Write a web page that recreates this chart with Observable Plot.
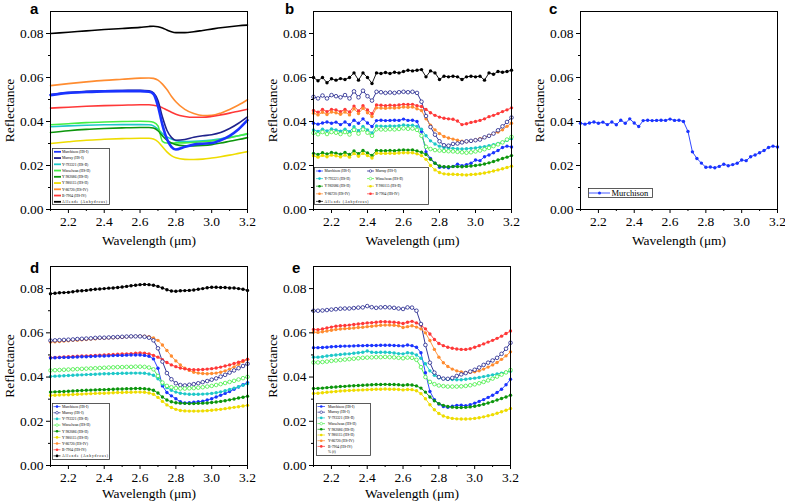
<!DOCTYPE html>
<html>
<head>
<meta charset="utf-8">
<script src="https://cdn.jsdelivr.net/npm/d3@7"></script>
<script src="https://cdn.jsdelivr.net/npm/@observablehq/plot@0.6"></script>
<style>
  html,body{margin:0;padding:0;background:#fff;}
  #fig{position:relative;width:785px;height:503px;overflow:hidden;background:#fff;}
  .pnl{position:absolute;}
  .letter{position:absolute;font:bold 15px/15px "Liberation Sans",Arial,sans-serif;color:#000;}
</style>
</head>
<body>
<div id="fig"></div>
<script>
// ---------- categories / styling ----------
const names = ["Murchison (HS-I)", "Murray (HS-I)", "Y-793321 (HS-II)", "Winselwan (HS-II)", "Y 982086 (HS-II)", "Y 980115 (HS-II)", "Y-86720 (HS-IV)", "B-7904 (HS-IV)", "Allende (Anhydrous)"];
const colors = ["#1a33ff", "#1f228c", "#1ec8c8", "#44ee44", "#0c960c", "#eedc00", "#ff8c30", "#ff3838", "#000000"];
const hollowNames = ["Murray (HS-I)", "Winselwan (HS-II)"];

// ---------- tick labels ----------
const xMajor = [2.2, 2.4, 2.6, 2.8, 3.0, 3.2];
const xMinor = [2.1, 2.3, 2.5, 2.7, 2.9, 3.1];
const yMajor = [0.00, 0.02, 0.04, 0.06, 0.08];
const yMinor = [0.01, 0.03, 0.05, 0.07];

// ---------- wavelengths ----------
const wlA = [2.10, 2.20, 2.30, 2.40, 2.50, 2.60, 2.65, 2.675, 2.70, 2.725, 2.75, 2.775, 2.80, 2.85, 2.90, 2.95, 3.00, 3.05, 3.10, 3.15, 3.20];
const wl = [2.100, 2.125, 2.150, 2.175, 2.200, 2.225, 2.250, 2.275, 2.300, 2.325, 2.350, 2.375, 2.400, 2.425, 2.450, 2.475, 2.500, 2.525, 2.550, 2.575, 2.600, 2.625, 2.650, 2.675, 2.700, 2.725, 2.750, 2.775, 2.800, 2.825, 2.850, 2.875, 2.900, 2.925, 2.950, 2.975, 3.000, 3.025, 3.050, 3.075, 3.100, 3.125, 3.150, 3.175, 3.200];

// ---------- panel a (smooth) ----------
const aMurchison = [0.0520, 0.0530, 0.0534, 0.0537, 0.0538, 0.0538, 0.0535, 0.0525, 0.0470, 0.0385, 0.0320, 0.0285, 0.0273, 0.0285, 0.0295, 0.0299, 0.0302, 0.0315, 0.0335, 0.0365, 0.0406];
const aMurray = [0.0522, 0.0532, 0.0537, 0.0540, 0.0541, 0.0542, 0.0540, 0.0530, 0.0495, 0.0420, 0.0360, 0.0328, 0.0315, 0.0318, 0.0328, 0.0335, 0.0340, 0.0350, 0.0368, 0.0392, 0.0421];
const aY793321 = [0.0376, 0.0380, 0.0383, 0.0385, 0.0386, 0.0386, 0.0385, 0.0380, 0.0365, 0.0345, 0.0330, 0.0320, 0.0313, 0.0309, 0.0310, 0.0312, 0.0316, 0.0321, 0.0328, 0.0335, 0.0342];
const aWinselwan = [0.0385, 0.0390, 0.0395, 0.0398, 0.0400, 0.0401, 0.0400, 0.0397, 0.0380, 0.0310, 0.0302, 0.0302, 0.0303, 0.0303, 0.0305, 0.0308, 0.0312, 0.0318, 0.0326, 0.0335, 0.0345];
const aY982086 = [0.0350, 0.0358, 0.0364, 0.0368, 0.0371, 0.0373, 0.0373, 0.0370, 0.0358, 0.0335, 0.0315, 0.0302, 0.0295, 0.0290, 0.0289, 0.0291, 0.0295, 0.0302, 0.0310, 0.0318, 0.0327];
const aY980115 = [0.0300, 0.0308, 0.0315, 0.0319, 0.0322, 0.0324, 0.0324, 0.0320, 0.0308, 0.0285, 0.0262, 0.0245, 0.0235, 0.0228, 0.0227, 0.0229, 0.0234, 0.0240, 0.0247, 0.0255, 0.0263];
const aY86720 = [0.0563, 0.0572, 0.0580, 0.0587, 0.0592, 0.0597, 0.0598, 0.0596, 0.0588, 0.0570, 0.0545, 0.0515, 0.0490, 0.0455, 0.0436, 0.0427, 0.0428, 0.0438, 0.0455, 0.0475, 0.0499];
const aB7904 = [0.0461, 0.0465, 0.0469, 0.0472, 0.0474, 0.0476, 0.0476, 0.0474, 0.0470, 0.0462, 0.0452, 0.0442, 0.0433, 0.0423, 0.0419, 0.0419, 0.0423, 0.0430, 0.0438, 0.0447, 0.0456];
const aAllende = [0.0800, 0.0806, 0.0812, 0.0818, 0.0823, 0.0828, 0.0832, 0.0833, 0.0831, 0.0825, 0.0816, 0.0808, 0.0804, 0.0804, 0.0808, 0.0814, 0.0820, 0.0826, 0.0831, 0.0835, 0.0838];

// ---------- panel b (and c: Murchison) ----------
const bMurchison = [0.0392, 0.0388, 0.0393, 0.0398, 0.0392, 0.0397, 0.0386, 0.0398, 0.0385, 0.0406, 0.0392, 0.0412, 0.0393, 0.0377, 0.0404, 0.0406, 0.0404, 0.0405, 0.0406, 0.0405, 0.0411, 0.0405, 0.0406, 0.0400, 0.0355, 0.0262, 0.0232, 0.0211, 0.0192, 0.0193, 0.0190, 0.0196, 0.0206, 0.0199, 0.0204, 0.0210, 0.0225, 0.0222, 0.0240, 0.0248, 0.0258, 0.0268, 0.0282, 0.0288, 0.0284];
const bMurray = [0.0512, 0.0505, 0.0518, 0.0505, 0.0520, 0.0515, 0.0510, 0.0520, 0.0505, 0.0537, 0.0510, 0.0540, 0.0515, 0.0495, 0.0535, 0.0533, 0.0530, 0.0532, 0.0530, 0.0533, 0.0535, 0.0533, 0.0535, 0.0530, 0.0490, 0.0425, 0.0375, 0.0340, 0.0310, 0.0292, 0.0290, 0.0298, 0.0300, 0.0305, 0.0310, 0.0312, 0.0315, 0.0318, 0.0328, 0.0335, 0.0345, 0.0360, 0.0378, 0.0398, 0.0418];
const bY793321 = [0.0362, 0.0355, 0.0365, 0.0357, 0.0366, 0.0362, 0.0356, 0.0365, 0.0354, 0.0376, 0.0358, 0.0378, 0.0362, 0.0348, 0.0380, 0.0379, 0.0378, 0.0380, 0.0379, 0.0381, 0.0384, 0.0382, 0.0383, 0.0378, 0.0365, 0.0335, 0.0312, 0.0298, 0.0288, 0.0282, 0.0280, 0.0278, 0.0276, 0.0275, 0.0276, 0.0278, 0.0280, 0.0283, 0.0286, 0.0290, 0.0295, 0.0300, 0.0306, 0.0314, 0.0322];
const bWinselwan = [0.0348, 0.0342, 0.0352, 0.0343, 0.0352, 0.0349, 0.0343, 0.0352, 0.0341, 0.0362, 0.0345, 0.0364, 0.0349, 0.0335, 0.0365, 0.0364, 0.0363, 0.0365, 0.0364, 0.0366, 0.0369, 0.0367, 0.0368, 0.0362, 0.0335, 0.0285, 0.0275, 0.0270, 0.0268, 0.0266, 0.0265, 0.0264, 0.0262, 0.0260, 0.0258, 0.0260, 0.0264, 0.0268, 0.0274, 0.0280, 0.0288, 0.0296, 0.0305, 0.0318, 0.0330];
const bY982086 = [0.0255, 0.0250, 0.0258, 0.0252, 0.0259, 0.0256, 0.0251, 0.0259, 0.0250, 0.0266, 0.0254, 0.0268, 0.0257, 0.0246, 0.0268, 0.0267, 0.0267, 0.0268, 0.0267, 0.0269, 0.0271, 0.0270, 0.0271, 0.0266, 0.0260, 0.0250, 0.0228, 0.0210, 0.0198, 0.0194, 0.0194, 0.0195, 0.0195, 0.0194, 0.0196, 0.0198, 0.0200, 0.0203, 0.0207, 0.0212, 0.0218, 0.0225, 0.0232, 0.0238, 0.0245];
const bY980115 = [0.0244, 0.0238, 0.0246, 0.0240, 0.0247, 0.0244, 0.0239, 0.0247, 0.0238, 0.0254, 0.0242, 0.0255, 0.0245, 0.0234, 0.0256, 0.0255, 0.0255, 0.0256, 0.0255, 0.0257, 0.0258, 0.0258, 0.0258, 0.0253, 0.0245, 0.0228, 0.0200, 0.0180, 0.0168, 0.0162, 0.0160, 0.0160, 0.0159, 0.0158, 0.0157, 0.0159, 0.0160, 0.0163, 0.0166, 0.0170, 0.0175, 0.0180, 0.0185, 0.0191, 0.0197];
const bY86720 = [0.0438, 0.0430, 0.0442, 0.0432, 0.0443, 0.0440, 0.0433, 0.0443, 0.0430, 0.0458, 0.0436, 0.0460, 0.0440, 0.0423, 0.0462, 0.0461, 0.0460, 0.0462, 0.0461, 0.0463, 0.0466, 0.0465, 0.0466, 0.0458, 0.0450, 0.0412, 0.0383, 0.0362, 0.0345, 0.0332, 0.0325, 0.0320, 0.0315, 0.0310, 0.0308, 0.0312, 0.0316, 0.0322, 0.0328, 0.0336, 0.0345, 0.0352, 0.0362, 0.0378, 0.0392];
const bB7904 = [0.0450, 0.0442, 0.0455, 0.0445, 0.0455, 0.0452, 0.0445, 0.0455, 0.0443, 0.0470, 0.0448, 0.0472, 0.0452, 0.0435, 0.0475, 0.0474, 0.0472, 0.0474, 0.0473, 0.0475, 0.0478, 0.0477, 0.0478, 0.0472, 0.0468, 0.0455, 0.0440, 0.0428, 0.0420, 0.0415, 0.0412, 0.0410, 0.0402, 0.0386, 0.0390, 0.0396, 0.0400, 0.0405, 0.0412, 0.0422, 0.0428, 0.0436, 0.0445, 0.0453, 0.0462];
const bAllende = [0.0600, 0.0585, 0.0600, 0.0576, 0.0594, 0.0588, 0.0595, 0.0591, 0.0600, 0.0621, 0.0588, 0.0621, 0.0600, 0.0573, 0.0621, 0.0618, 0.0623, 0.0618, 0.0624, 0.0621, 0.0627, 0.0633, 0.0630, 0.0633, 0.0636, 0.0603, 0.0630, 0.0621, 0.0591, 0.0606, 0.0603, 0.0606, 0.0603, 0.0591, 0.0603, 0.0606, 0.0603, 0.0606, 0.0588, 0.0621, 0.0615, 0.0627, 0.0624, 0.0627, 0.0633];

// ---------- panel d ----------
const dMurchison = [0.0486, 0.0487, 0.0488, 0.0489, 0.0489, 0.0490, 0.0491, 0.0492, 0.0492, 0.0493, 0.0494, 0.0495, 0.0495, 0.0496, 0.0497, 0.0498, 0.0498, 0.0499, 0.0500, 0.0500, 0.0500, 0.0498, 0.0494, 0.0482, 0.0440, 0.0360, 0.0330, 0.0315, 0.0302, 0.0288, 0.0283, 0.0284, 0.0286, 0.0288, 0.0291, 0.0296, 0.0302, 0.0310, 0.0318, 0.0326, 0.0335, 0.0345, 0.0355, 0.0365, 0.0375];
const dMurray = [0.0565, 0.0566, 0.0567, 0.0568, 0.0569, 0.0570, 0.0572, 0.0573, 0.0574, 0.0575, 0.0577, 0.0578, 0.0578, 0.0579, 0.0580, 0.0581, 0.0582, 0.0583, 0.0584, 0.0584, 0.0584, 0.0582, 0.0578, 0.0566, 0.0530, 0.0470, 0.0418, 0.0390, 0.0372, 0.0364, 0.0362, 0.0365, 0.0368, 0.0372, 0.0377, 0.0382, 0.0388, 0.0394, 0.0402, 0.0410, 0.0420, 0.0430, 0.0440, 0.0450, 0.0460];
const dY793321 = [0.0403, 0.0404, 0.0405, 0.0406, 0.0407, 0.0408, 0.0409, 0.0410, 0.0411, 0.0412, 0.0413, 0.0414, 0.0415, 0.0415, 0.0416, 0.0416, 0.0417, 0.0417, 0.0418, 0.0418, 0.0418, 0.0417, 0.0414, 0.0408, 0.0392, 0.0368, 0.0352, 0.0340, 0.0332, 0.0327, 0.0324, 0.0322, 0.0322, 0.0322, 0.0323, 0.0324, 0.0326, 0.0329, 0.0333, 0.0338, 0.0344, 0.0350, 0.0356, 0.0363, 0.0370];
const dWinselwan = [0.0430, 0.0431, 0.0432, 0.0433, 0.0434, 0.0435, 0.0436, 0.0437, 0.0438, 0.0439, 0.0440, 0.0441, 0.0442, 0.0443, 0.0444, 0.0445, 0.0445, 0.0446, 0.0446, 0.0447, 0.0447, 0.0446, 0.0443, 0.0435, 0.0405, 0.0375, 0.0360, 0.0354, 0.0350, 0.0348, 0.0348, 0.0349, 0.0350, 0.0352, 0.0354, 0.0357, 0.0360, 0.0364, 0.0368, 0.0373, 0.0378, 0.0383, 0.0389, 0.0395, 0.0401];
const dY982086 = [0.0332, 0.0333, 0.0334, 0.0335, 0.0336, 0.0337, 0.0338, 0.0339, 0.0340, 0.0341, 0.0342, 0.0343, 0.0343, 0.0344, 0.0345, 0.0346, 0.0346, 0.0347, 0.0347, 0.0348, 0.0348, 0.0347, 0.0345, 0.0340, 0.0328, 0.0310, 0.0296, 0.0288, 0.0284, 0.0282, 0.0281, 0.0280, 0.0280, 0.0281, 0.0282, 0.0283, 0.0285, 0.0287, 0.0290, 0.0293, 0.0297, 0.0301, 0.0305, 0.0309, 0.0313];
const dY980115 = [0.0317, 0.0318, 0.0319, 0.0320, 0.0320, 0.0321, 0.0322, 0.0323, 0.0324, 0.0325, 0.0326, 0.0327, 0.0327, 0.0328, 0.0329, 0.0330, 0.0330, 0.0331, 0.0331, 0.0332, 0.0332, 0.0331, 0.0328, 0.0322, 0.0308, 0.0290, 0.0274, 0.0262, 0.0254, 0.0249, 0.0247, 0.0246, 0.0246, 0.0246, 0.0247, 0.0248, 0.0250, 0.0252, 0.0254, 0.0257, 0.0260, 0.0263, 0.0266, 0.0269, 0.0272];
const dY86720 = [0.0558, 0.0560, 0.0561, 0.0563, 0.0564, 0.0566, 0.0567, 0.0569, 0.0570, 0.0572, 0.0573, 0.0575, 0.0576, 0.0577, 0.0578, 0.0579, 0.0580, 0.0582, 0.0583, 0.0584, 0.0585, 0.0585, 0.0582, 0.0577, 0.0566, 0.0545, 0.0520, 0.0495, 0.0473, 0.0455, 0.0440, 0.0430, 0.0422, 0.0418, 0.0416, 0.0415, 0.0416, 0.0418, 0.0422, 0.0428, 0.0436, 0.0446, 0.0458, 0.0470, 0.0480];
const dB7904 = [0.0488, 0.0489, 0.0490, 0.0491, 0.0492, 0.0493, 0.0494, 0.0495, 0.0496, 0.0497, 0.0498, 0.0499, 0.0500, 0.0501, 0.0502, 0.0503, 0.0504, 0.0505, 0.0506, 0.0508, 0.0509, 0.0508, 0.0505, 0.0498, 0.0490, 0.0478, 0.0466, 0.0455, 0.0447, 0.0441, 0.0437, 0.0434, 0.0433, 0.0433, 0.0434, 0.0436, 0.0438, 0.0441, 0.0445, 0.0450, 0.0455, 0.0461, 0.0467, 0.0474, 0.0481];
const dAllende = [0.0777, 0.0779, 0.0781, 0.0782, 0.0783, 0.0786, 0.0789, 0.0790, 0.0792, 0.0795, 0.0797, 0.0798, 0.0800, 0.0802, 0.0803, 0.0805, 0.0807, 0.0810, 0.0813, 0.0815, 0.0818, 0.0819, 0.0818, 0.0815, 0.0810, 0.0803, 0.0795, 0.0789, 0.0788, 0.0790, 0.0791, 0.0792, 0.0794, 0.0797, 0.0800, 0.0804, 0.0806, 0.0806, 0.0805, 0.0805, 0.0803, 0.0803, 0.0800, 0.0797, 0.0792];

// ---------- panel e ----------
const eMurchison = [0.0533, 0.0533, 0.0534, 0.0535, 0.0537, 0.0538, 0.0539, 0.0540, 0.0540, 0.0541, 0.0542, 0.0542, 0.0543, 0.0543, 0.0543, 0.0544, 0.0544, 0.0544, 0.0543, 0.0542, 0.0541, 0.0545, 0.0542, 0.0535, 0.0510, 0.0420, 0.0335, 0.0298, 0.0278, 0.0267, 0.0263, 0.0268, 0.0272, 0.0273, 0.0270, 0.0275, 0.0282, 0.0290, 0.0298, 0.0308, 0.0318, 0.0330, 0.0345, 0.0365, 0.0390];
const eMurray = [0.0700, 0.0700, 0.0701, 0.0703, 0.0705, 0.0707, 0.0709, 0.0710, 0.0710, 0.0712, 0.0714, 0.0715, 0.0721, 0.0716, 0.0713, 0.0715, 0.0716, 0.0715, 0.0713, 0.0710, 0.0708, 0.0715, 0.0714, 0.0700, 0.0640, 0.0545, 0.0465, 0.0420, 0.0400, 0.0393, 0.0392, 0.0396, 0.0405, 0.0412, 0.0418, 0.0425, 0.0433, 0.0443, 0.0455, 0.0465, 0.0475, 0.0487, 0.0505, 0.0528, 0.0555];
const eY793321 = [0.0490, 0.0490, 0.0492, 0.0495, 0.0498, 0.0500, 0.0502, 0.0504, 0.0505, 0.0508, 0.0510, 0.0512, 0.0518, 0.0512, 0.0511, 0.0512, 0.0512, 0.0511, 0.0509, 0.0506, 0.0505, 0.0510, 0.0508, 0.0500, 0.0485, 0.0460, 0.0428, 0.0408, 0.0397, 0.0392, 0.0390, 0.0389, 0.0388, 0.0388, 0.0390, 0.0393, 0.0395, 0.0398, 0.0402, 0.0406, 0.0410, 0.0414, 0.0418, 0.0422, 0.0426];
const eWinselwan = [0.0466, 0.0466, 0.0468, 0.0470, 0.0473, 0.0475, 0.0477, 0.0479, 0.0481, 0.0483, 0.0485, 0.0487, 0.0488, 0.0489, 0.0490, 0.0490, 0.0491, 0.0490, 0.0489, 0.0487, 0.0485, 0.0488, 0.0487, 0.0478, 0.0445, 0.0400, 0.0378, 0.0368, 0.0362, 0.0359, 0.0357, 0.0357, 0.0357, 0.0358, 0.0360, 0.0363, 0.0367, 0.0372, 0.0378, 0.0385, 0.0393, 0.0402, 0.0411, 0.0421, 0.0432];
const eY982086 = [0.0348, 0.0349, 0.0350, 0.0352, 0.0354, 0.0355, 0.0357, 0.0358, 0.0360, 0.0361, 0.0362, 0.0363, 0.0364, 0.0365, 0.0366, 0.0366, 0.0367, 0.0366, 0.0366, 0.0365, 0.0363, 0.0365, 0.0364, 0.0360, 0.0350, 0.0332, 0.0310, 0.0293, 0.0280, 0.0272, 0.0267, 0.0264, 0.0262, 0.0262, 0.0263, 0.0265, 0.0268, 0.0272, 0.0277, 0.0283, 0.0289, 0.0296, 0.0303, 0.0310, 0.0318];
const eY980115 = [0.0326, 0.0327, 0.0329, 0.0331, 0.0333, 0.0335, 0.0337, 0.0338, 0.0339, 0.0340, 0.0341, 0.0342, 0.0343, 0.0344, 0.0345, 0.0345, 0.0346, 0.0345, 0.0345, 0.0344, 0.0342, 0.0344, 0.0343, 0.0338, 0.0325, 0.0302, 0.0275, 0.0252, 0.0235, 0.0224, 0.0217, 0.0213, 0.0211, 0.0210, 0.0210, 0.0211, 0.0213, 0.0216, 0.0220, 0.0225, 0.0230, 0.0236, 0.0243, 0.0250, 0.0258];
const eY86720 = [0.0603, 0.0602, 0.0605, 0.0608, 0.0612, 0.0615, 0.0617, 0.0619, 0.0620, 0.0622, 0.0624, 0.0625, 0.0628, 0.0630, 0.0632, 0.0634, 0.0635, 0.0635, 0.0634, 0.0632, 0.0624, 0.0628, 0.0632, 0.0626, 0.0618, 0.0600, 0.0565, 0.0525, 0.0490, 0.0465, 0.0448, 0.0436, 0.0428, 0.0423, 0.0421, 0.0421, 0.0424, 0.0428, 0.0436, 0.0445, 0.0455, 0.0466, 0.0480, 0.0496, 0.0514];
const eB7904 = [0.0615, 0.0614, 0.0617, 0.0622, 0.0626, 0.0630, 0.0632, 0.0633, 0.0635, 0.0638, 0.0640, 0.0642, 0.0645, 0.0646, 0.0648, 0.0650, 0.0650, 0.0649, 0.0648, 0.0646, 0.0642, 0.0648, 0.0652, 0.0645, 0.0635, 0.0618, 0.0595, 0.0570, 0.0552, 0.0542, 0.0535, 0.0530, 0.0527, 0.0525, 0.0525, 0.0528, 0.0535, 0.0542, 0.0550, 0.0558, 0.0566, 0.0575, 0.0585, 0.0597, 0.0608];

// ---------- legend entries ----------
const legendAB = names;
const legendE = [...names.slice(0, 8), "% (f)"];
const legendC = ["Murchison"];

// ---------- helpers ----------
const fig = document.getElementById("fig");
const serif = '"Liberation Serif", "Times New Roman", serif';

function rows(xs, list) {
  const out = [];
  list.forEach(([name, arr]) => arr.forEach((v, j) => out.push({wl: xs[j], r: v, s: name})));
  return out;
}

function panel({left, top, width, height, mt, mb, ml, mr, data, markers, lineW, curve, xlo}) {
  const isHollow = d => hollowNames.includes(d.s);
  const marks = [
    Plot.line(data, {x: "wl", y: "r", z: "s", stroke: "s", strokeWidth: lineW, curve: curve || "linear"})
  ];
  if (markers) {
    marks.push(Plot.dot(data.filter(d => !isHollow(d)), {x: "wl", y: "r", fill: "s", r: 1.7}));
    marks.push(Plot.dot(data.filter(isHollow), {x: "wl", y: "r", stroke: "s", fill: "white", r: 1.8, strokeWidth: 0.8}));
  }
  marks.push(
    Plot.frame({stroke: "#000", strokeWidth: 1}),
    Plot.axisX({ticks: xMajor, tickSize: 4, tickPadding: 3, tickFormat: d3.format(".1f"), label: "Wavelength (μm)", labelAnchor: "center", labelOffset: xlo, labelArrow: "none"}),
    Plot.axisX({ticks: xMinor, tickSize: 2, tickFormat: () => "", label: null}),
    Plot.axisY({ticks: yMajor, tickSize: 4, tickPadding: 3, tickFormat: d3.format(".2f"), label: "Reflectance", labelAnchor: "center", labelOffset: 46, labelArrow: "none"}),
    Plot.axisY({ticks: yMinor, tickSize: 2, tickFormat: () => "", label: null})
  );
  const p = Plot.plot({
    width, height,
    marginTop: mt, marginBottom: mb, marginLeft: ml, marginRight: mr,
    x: {domain: [2.1, 3.2], label: null},
    y: {domain: [0, 0.09], label: null},
    color: {domain: names, range: colors},
    style: {fontFamily: serif, fontSize: "13.5px", color: "#000", background: "transparent", overflow: "visible"},
    marks
  });
  const div = document.createElement("div");
  div.className = "pnl";
  div.style.left = left + "px";
  div.style.top = top + "px";
  div.appendChild(p);
  fig.appendChild(div);
}

function legend({left, top, width, height, items, keys, cols = 1, colW = 0, rowH, y0, fs, sw0, sw1, tx, markers, lw, allW, box = "#333"}) {
  const svg = d3.select(fig).append("svg")
    .attr("width", width).attr("height", height)
    .style("position", "absolute").style("left", left + "px").style("top", top + "px");
  svg.append("rect").attr("x", 0.5).attr("y", 0.5).attr("width", width - 1).attr("height", height - 1)
    .attr("fill", "#fff").attr("stroke", box).attr("stroke-width", 0.8);
  items.forEach((label, i) => {
    const c = i % cols, ri = Math.floor(i / cols);
    const x = c * colW, y = y0 + ri * rowH;
    const key = keys ? keys[i] : label;
    const idx = names.indexOf(key);
    if (idx >= 0) {
      const col = colors[idx];
      svg.append("line").attr("x1", x + sw0).attr("x2", x + sw1).attr("y1", y).attr("y2", y)
        .attr("stroke", col).attr("stroke-width", lw);
      if (markers) {
        const hol = hollowNames.includes(key);
        svg.append("circle").attr("cx", x + (sw0 + sw1) / 2).attr("cy", y).attr("r", markers)
          .attr("fill", hol ? "#fff" : col).attr("stroke", col).attr("stroke-width", hol ? 0.6 : 0);
      }
    }
    const t = svg.append("text").attr("x", x + tx).attr("y", y).attr("dy", "0.35em")
      .attr("font-family", serif).attr("font-size", fs).attr("fill", "#000").text(label);
    if (allW && label.startsWith("Allende")) t.attr("textLength", allW).attr("lengthAdjust", "spacing");
  });
}

function letter(txt, left, top) {
  const d = document.createElement("div");
  d.className = "letter";
  d.style.left = left + "px";
  d.style.top = top + "px";
  d.textContent = txt;
  fig.appendChild(d);
}

// ---------- panels ----------
const dataA = rows(wlA, [[names[8], aAllende], [names[6], aY86720], [names[7], aB7904], [names[2], aY793321], [names[3], aWinselwan], [names[4], aY982086], [names[5], aY980115], [names[1], aMurray], [names[0], aMurchison]]);
const dataB = rows(wl, [[names[8], bAllende], [names[1], bMurray], [names[7], bB7904], [names[6], bY86720], [names[0], bMurchison], [names[2], bY793321], [names[3], bWinselwan], [names[4], bY982086], [names[5], bY980115]]);
const dataC = rows(wl, [[names[0], bMurchison]]);
const dataD = rows(wl, [[names[8], dAllende], [names[6], dY86720], [names[1], dMurray], [names[7], dB7904], [names[0], dMurchison], [names[3], dWinselwan], [names[2], dY793321], [names[4], dY982086], [names[5], dY980115]]);
const dataE = rows(wl, [[names[1], eMurray], [names[7], eB7904], [names[6], eY86720], [names[0], eMurchison], [names[2], eY793321], [names[3], eWinselwan], [names[4], eY982086], [names[5], eY980115]]);

panel({left: 0, top: 0, width: 262, height: 250, mt: 11, mb: 41, ml: 50, mr: 15, data: dataA, markers: false, lineW: d => d.s === names[0] ? 2.6 : 1.6, curve: "monotone-x", xlo: 35});
panel({left: 263, top: 0, width: 262, height: 250, mt: 11, mb: 41, ml: 50, mr: 14, data: dataB, markers: true, lineW: 0.9, xlo: 35});
panel({left: 530, top: 0, width: 255, height: 250, mt: 11, mb: 41, ml: 50, mr: 8, data: dataC, markers: true, lineW: 0.9, xlo: 35});
panel({left: 0, top: 255, width: 262, height: 248, mt: 11, mb: 38, ml: 50, mr: 15, data: dataD, markers: true, lineW: 0.9, xlo: 32});
panel({left: 263, top: 255, width: 262, height: 248, mt: 11, mb: 38, ml: 50, mr: 15, data: dataE, markers: true, lineW: 0.9, xlo: 32});

legend({left: 52, top: 148, width: 58, height: 57, items: legendAB, rowH: 6.25, y0: 3.8, fs: 3.7, sw0: 2, sw1: 9, tx: 10, markers: 0, lw: 1.8, allW: 45});
legend({left: 314, top: 167, width: 115, height: 38, items: legendAB, cols: 2, colW: 51, rowH: 7.6, y0: 4, fs: 3.6, sw0: 2, sw1: 9, tx: 10.5, markers: 1.3, lw: 0.7, allW: 44});
legend({left: 588, top: 188, width: 65, height: 10, items: legendC, keys: [names[0]], rowH: 0, y0: 5, fs: 8.5, sw0: 1, sw1: 22, tx: 23.5, markers: 1.5, lw: 0.8});
legend({left: 52, top: 403, width: 58, height: 57, items: legendAB, rowH: 6.16, y0: 3.6, fs: 3.7, sw0: 1.5, sw1: 8.5, tx: 10, markers: 1.3, lw: 0.7, allW: 46});
legend({left: 316, top: 403, width: 55, height: 53, items: legendE, rowH: 5.7, y0: 3.5, fs: 3.7, sw0: 1.5, sw1: 9, tx: 12, markers: 1.3, lw: 0.7});

letter("a", 30, 1);
letter("b", 285, 1);
letter("c", 549, 1);
letter("d", 30, 260);
letter("e", 292, 260);
</script>
</body>
</html>
